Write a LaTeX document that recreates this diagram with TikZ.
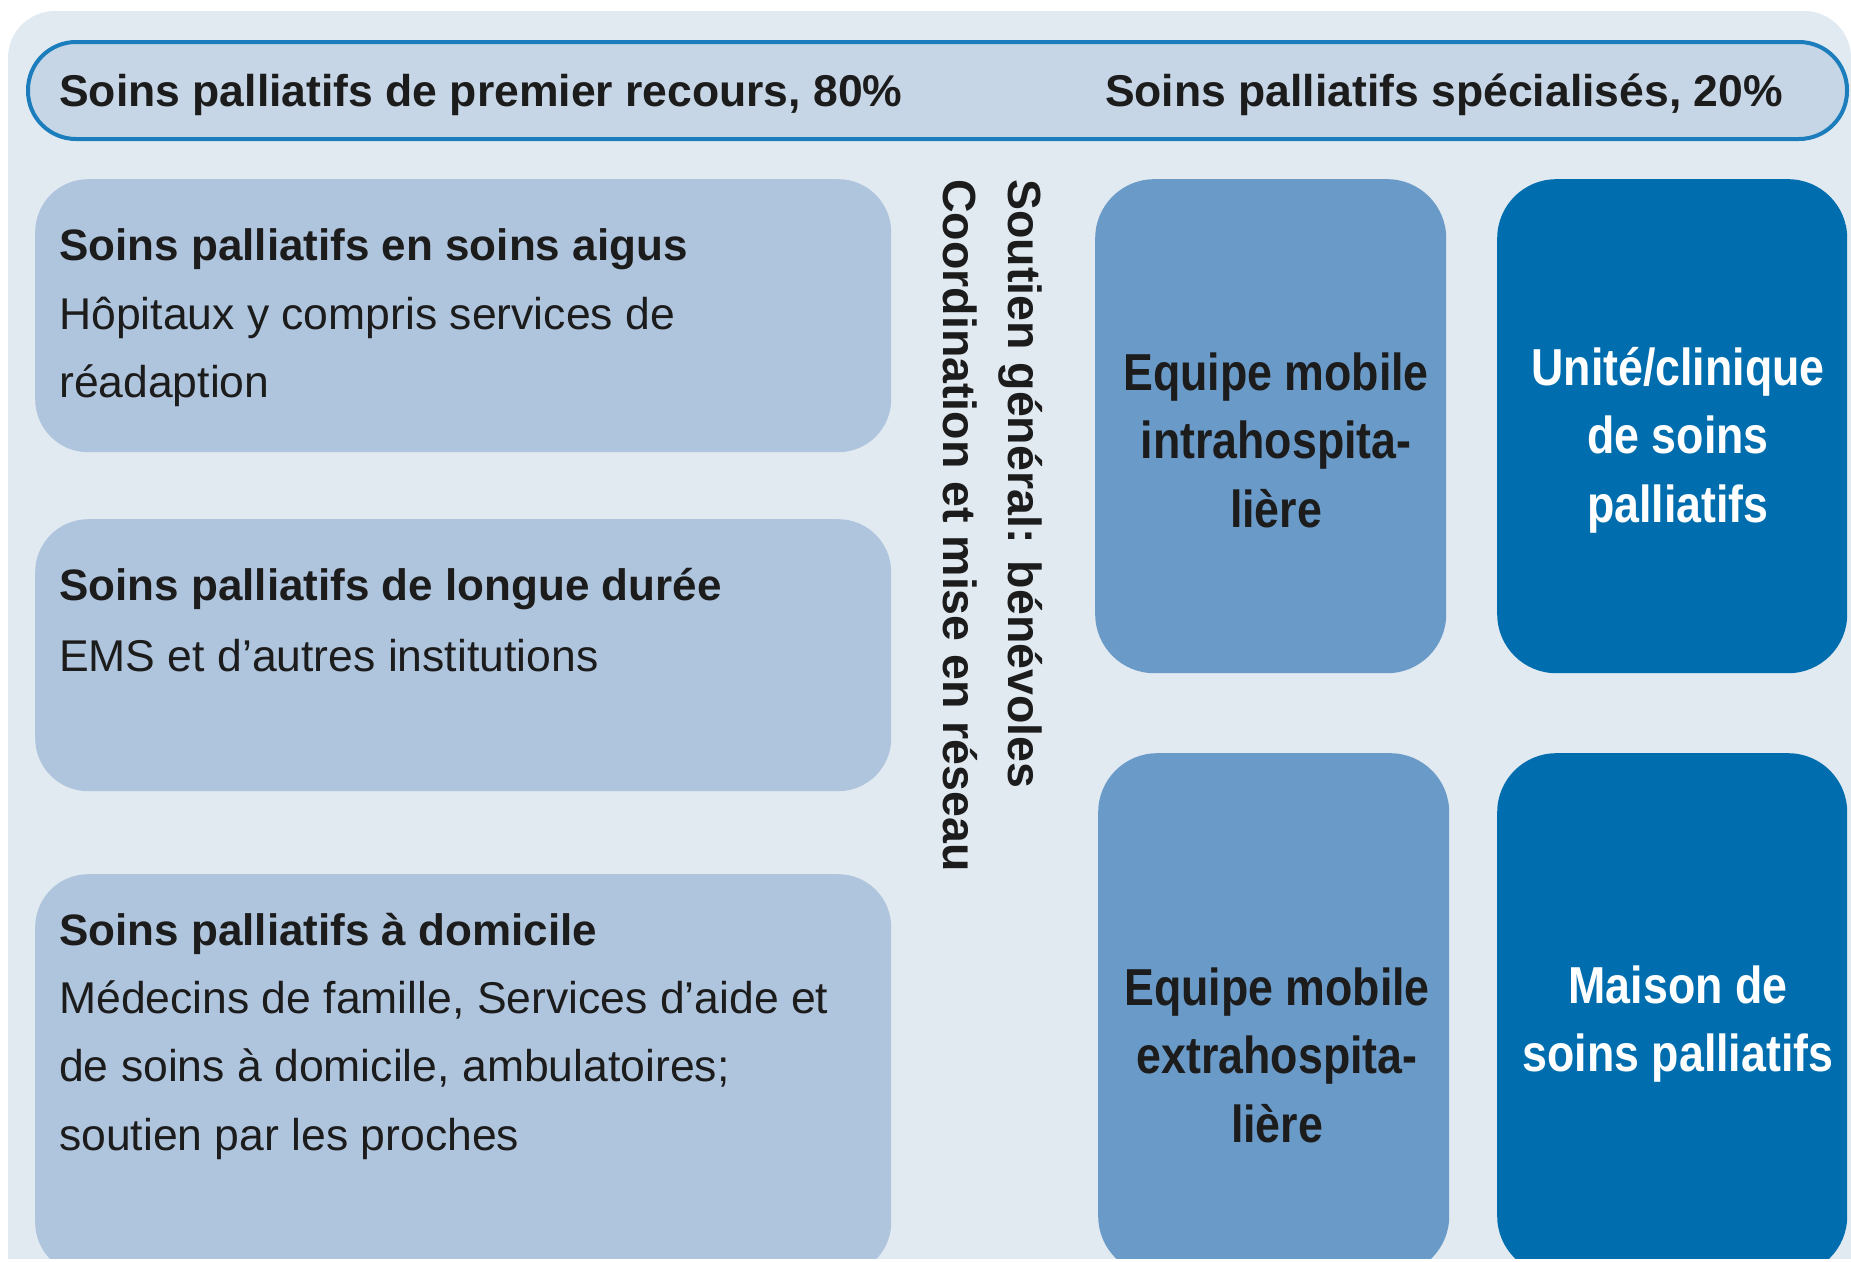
\documentclass[tikz,border=0pt]{standalone}
\usepackage{fontspec}
\setmainfont{Liberation Sans}
\newfontfamily\condfont[FakeStretch=0.86]{Liberation Sans}
\definecolor{panelbg}{HTML}{E1E9F1}
\definecolor{bannerfill}{HTML}{C6D6E6}
\definecolor{bannerline}{HTML}{1B7DBB}
\definecolor{lightbox}{HTML}{AFC4DD}
\definecolor{midbox}{HTML}{6A9AC8}
\definecolor{darkbox}{HTML}{006EAE}
\definecolor{inkc}{HTML}{1C1C1C}
\tikzset{
 lbox/.style={fill=lightbox, rounded corners=53pt, anchor=north west, inner sep=0pt},
 mbox/.style={fill=midbox, rounded corners=59pt, anchor=north west, inner sep=0pt},
 dbox/.style={fill=darkbox, rounded corners=59pt, anchor=north west, inner sep=0pt},
 ttl/.style={anchor=base west, inner sep=0pt, text=inkc, font=\fontsize{44}{52}\selectfont\bfseries},
 txt/.style={anchor=base west, inner sep=0pt, text=inkc, font=\fontsize{44.5}{52}\selectfont},
 bantxt/.style={inner sep=0pt, text=inkc, font=\fontsize{44.5}{52}\selectfont\bfseries},
 vtxt/.style={rotate=-90, anchor=base west, inner sep=0pt, text=inkc, font=\fontsize{46.5}{52}\selectfont\bfseries},
 ctxt/.style={align=center, inner sep=0pt, font=\condfont\fontsize{52}{68.5}\selectfont\bfseries},
}
\begin{document}
\begin{tikzpicture}[x=1pt,y=-1pt]
\useasboundingbox (0,0) rectangle (1851,1261);
\fill[white] (0,0) rectangle (1851,1261);
\begin{scope}
\clip (0,0) rectangle (1851,1258);
\path[fill=panelbg, rounded corners=47pt] (8,11) rectangle (1851,1330);
\node[draw=bannerline, line width=4pt, fill=bannerfill, rounded corners=48pt, minimum width=1819pt, minimum height=97pt, anchor=north west, inner sep=0pt] (banner) at (26,40) {};
\node[bantxt, anchor=base west] (primary) at (59,106) {Soins palliatifs de premier recours, 80\%};
\node[bantxt, anchor=base east] (special) at (1783,106) {Soins palliatifs spécialisés, 20\%};

\node[lbox, minimum width=856pt, minimum height=273pt] (acute) at (35,179) {};
\node[lbox, minimum width=856pt, minimum height=272pt] (longterm) at (35,519) {};
\node[lbox, minimum width=856pt, minimum height=401pt] (home) at (35,874) {};

\node[mbox, minimum width=351pt, minimum height=494pt] (intra) at (1095,179) {};
\node[dbox, minimum width=350pt, minimum height=494pt] (unit) at (1497,179) {};
\node[mbox, minimum width=351pt, minimum height=522pt] (extra) at (1098,753) {};
\node[dbox, minimum width=350pt, minimum height=522pt] (hospice) at (1497,753) {};

\node[ttl] (acuteT) at (59,260) {Soins palliatifs en soins aigus};
\node[txt] (acuteA) at (59,329) {Hôpitaux y compris services de};
\node[txt] (acuteB) at (59,397) {réadaption};
\node[ttl] (longT) at (59,600) {Soins palliatifs de longue durée};
\node[txt] (longA) at (59,671) {EMS et d’autres institutions};
\node[ttl] (homeT) at (59,945) {Soins palliatifs à domicile};
\node[txt] (homeA) at (59,1013) {Médecins de famille, Services d’aide et};
\node[txt] (homeB) at (59,1081) {de soins à domicile, ambulatoires;};
\node[txt] (homeC) at (59,1150) {soutien par les proches};

\node[vtxt] (support) at (1008,179) {Soutien général: bénévoles};
\node[vtxt] (network) at (943,179) {Coordination et mise en réseau};

\node[ctxt, text=inkc] (intraT) at (1276,440) {Equipe mobile\\intrahospita-\\lière};
\node[ctxt, text=white] (unitT) at (1678,440) {Unité/clinique\\de soins\\palliatifs};
\node[ctxt, text=inkc] (extraT) at (1277,1055) {Equipe mobile\\extrahospita-\\lière};
\node[ctxt, text=white] (hospT) at (1678,1024) {Maison de\\soins palliatifs};
\end{scope}
\end{tikzpicture}
\end{document}
